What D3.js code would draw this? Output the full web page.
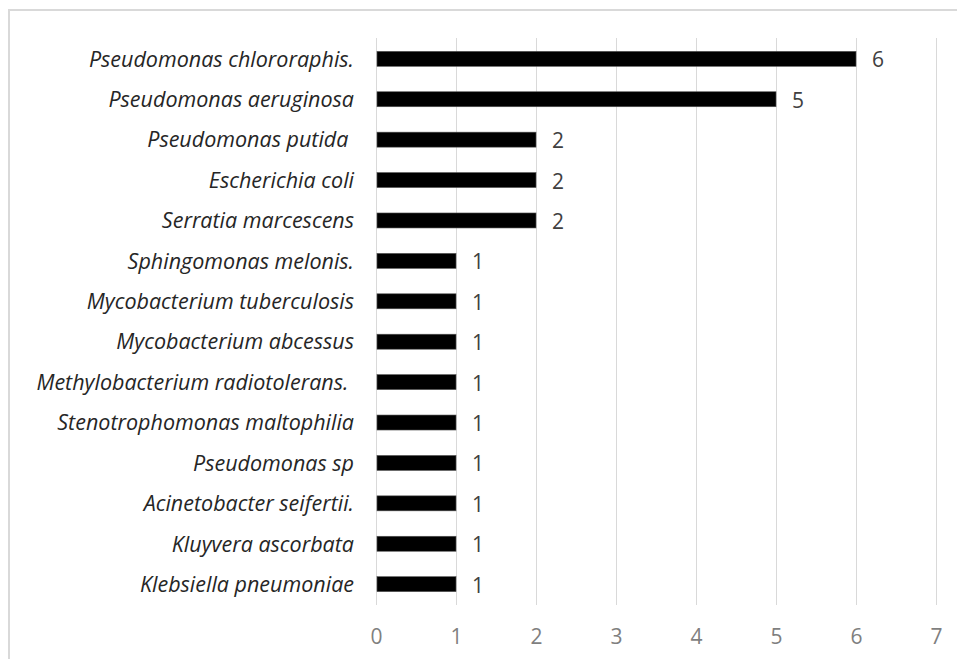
<!DOCTYPE html>
<html><head><meta charset="utf-8">
<script src="https://cdn.jsdelivr.net/npm/d3@7"></script>
<style>body{margin:0;background:#fff;} svg{display:block;}</style>
</head><body>
<svg id="c" width="957" height="659"></svg>
<script>
const categories = ["Pseudomonas chlororaphis.","Pseudomonas aeruginosa","Pseudomonas putida ","Escherichia coli","Serratia marcescens","Sphingomonas melonis.","Mycobacterium tuberculosis","Mycobacterium abcessus","Methylobacterium radiotolerans. ","Stenotrophomonas maltophilia","Pseudomonas sp","Acinetobacter seifertii.","Kluyvera ascorbata","Klebsiella pneumoniae"];
const values = [6,5,2,2,2,1,1,1,1,1,1,1,1,1];
const xTicks = [0,1,2,3,4,5,6,7];

const svg = d3.select("#c");
const mLeft = 376, mRight = 936, mTop = 38, mBottom = 605;
const x = d3.scaleLinear().domain([0,7]).range([mLeft,mRight]);
const y = d3.scaleBand().domain(categories).range([mTop,mBottom]).paddingInner(0.629).paddingOuter(0.33);

// outer border
svg.append("rect").attr("x",9).attr("y",10).attr("width",1000).attr("height",1000)
  .attr("fill","none").attr("stroke","#d9d9d9").attr("stroke-width",2);

// gridlines
svg.append("g").selectAll("line").data(xTicks).join("line")
  .attr("x1",d=>Math.round(x(d))+0.5).attr("x2",d=>Math.round(x(d))+0.5)
  .attr("y1",mTop).attr("y2",mBottom).attr("stroke","#d9d9d9").attr("stroke-width",1);

// x axis labels
const xAxis = d3.axisBottom(x).tickValues(xTicks).tickFormat(d3.format("d")).tickSize(0).tickPadding(0);
const gx = svg.append("g").attr("transform",`translate(0,${636})`).call(xAxis);
gx.select(".domain").remove();
gx.selectAll("text").attr("font-family","'Open Sans', sans-serif").attr("font-size",21)
  .attr("fill","#7f7f7f").attr("dy","0.36em");

// y axis labels
const yAxis = d3.axisLeft(y).tickSize(0).tickPadding(0);
const gy = svg.append("g").attr("transform",`translate(354,0)`).call(yAxis);
gy.select(".domain").remove();
gy.selectAll("text").attr("font-family","'Open Sans', sans-serif").attr("font-style","italic")
  .attr("font-size",21.5).attr("fill","#262626").style("white-space","pre").attr("dy","0.36em");

// bars
svg.append("g").selectAll("rect").data(values).join("rect")
  .attr("x",x(0)+1).attr("y",(d,i)=>y(categories[i]))
  .attr("width",d=>x(d)-x(0)-1).attr("height",y.bandwidth()).attr("fill","#000")
  .attr("stroke","#555").attr("stroke-width",0.6);

// value labels
svg.append("g").selectAll("text").data(values).join("text")
  .attr("x",d=>x(d)+16).attr("y",(d,i)=>y(categories[i])+y.bandwidth()/2+1)
  .attr("dy","0.36em").attr("font-family","'Open Sans', sans-serif").attr("font-size",21)
  .attr("fill","#404040").text(d=>d);
</script>
</body></html>
